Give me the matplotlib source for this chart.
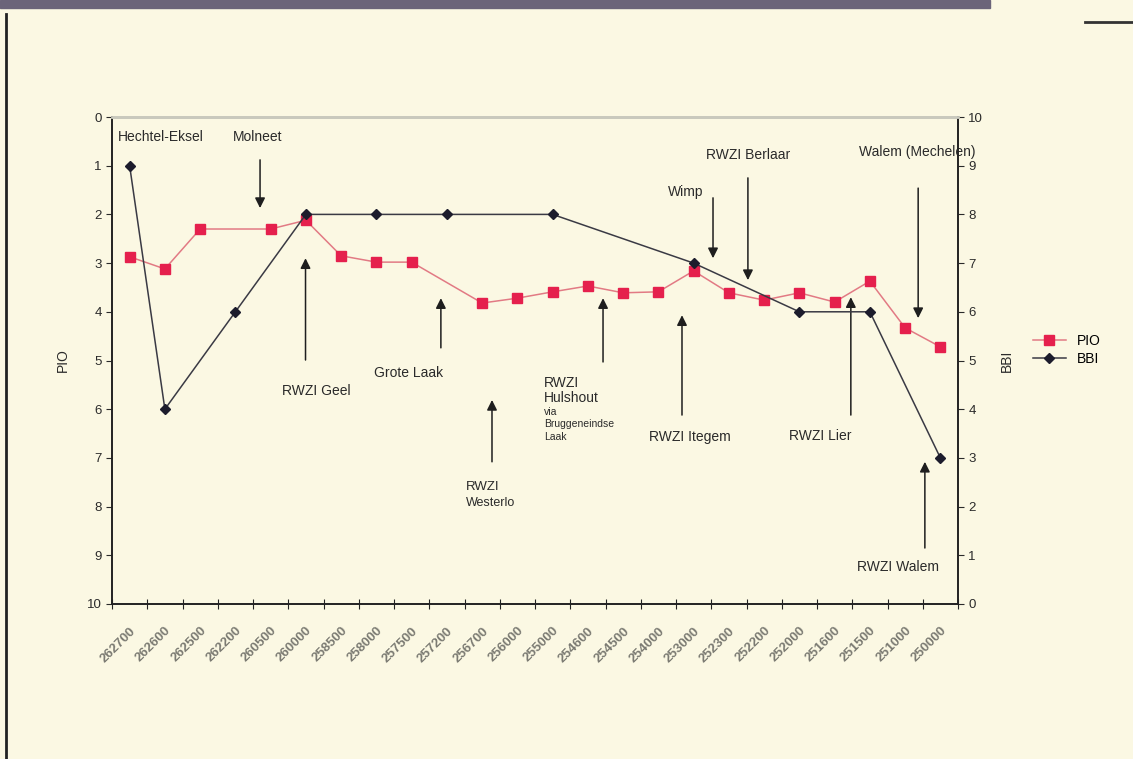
import matplotlib
matplotlib.use("Agg")
import matplotlib.pyplot as plt
from matplotlib.lines import Line2D
from matplotlib.patches import Rectangle

# river km / coordinates along the Nete (x categories)
locations = ["262700", "262600", "262500", "262200", "260500", "260000",
             "258500", "258000", "257500", "257200", "256700", "256000",
             "255000", "254600", "254500", "254000", "253000", "252300",
             "252200", "252000", "251600", "251500", "251000", "250000"]

# PIO index (left axis, inverted) - missing at some stations
pio_idx = [0, 1, 2, 4, 5, 6, 7, 8, 10, 11, 12, 13, 14, 15, 16, 17, 18, 19, 20, 21, 22, 23]
pio_val = [2.87, 3.12, 2.30, 2.30, 2.12, 2.85, 2.98, 2.98, 3.82, 3.72, 3.59, 3.47,
           3.61, 3.59, 3.16, 3.61, 3.76, 3.61, 3.80, 3.37, 4.33, 4.72]

# BBI (right axis)
bbi_idx = [0, 1, 3, 5, 7, 9, 12, 16, 19, 21, 23]
bbi_val = [9, 4, 6, 8, 8, 8, 8, 7, 6, 6, 3]

# discharge points: (text, text x, text y, arrow x, arrow from y, arrow to y)
labels = [
    ("Molneet", 3.64, 0.41, 3.70, 0.88, 1.87),
    ("RWZI Geel", 5.29, 5.63, 4.99, 4.99, 2.90),
    ("Grote Laak", 7.90, 5.26, 8.83, 4.74, 3.72),
    ("Wimp", 15.78, 1.54, 16.55, 1.66, 2.90),
    ("RWZI Berlaar", 17.54, 0.78, 17.54, 1.25, 3.35),
    ("Walem (Mechelen)", 22.34, 0.72, 22.37, 1.46, 4.13),
    ("RWZI Itegem", 15.90, 6.57, 15.67, 6.12, 4.07),
    ("RWZI Lier", 19.59, 6.55, 20.46, 6.12, 3.70),
    ("RWZI Walem", 21.80, 9.24, 22.56, 8.85, 7.08),
]

bg = "#fbf8e3"
plt.rcParams["font.family"] = ["Liberation Sans", "DejaVu Sans"]

fig = plt.figure(figsize=(11.33, 7.59), dpi=100, facecolor=bg)
ax = fig.add_axes([112 / 1133, 1 - 604 / 759, (958 - 112) / 1133, (604 - 117) / 759])
ax.set_facecolor(bg)
ax2 = ax.twinx()

x = list(range(len(locations)))
ax.set_xlim(-0.5, len(locations) - 0.5)
ax.set_ylim(10, 0)
ax2.set_ylim(0, 10)

ax.plot(pio_idx, pio_val, color="#e27a84", lw=1.1, marker="s", ms=6.5,
        mfc="#e5204d", mec="#e5204d", zorder=3)
ax2.plot(bbi_idx, bbi_val, color="#3a3a44", lw=1.1, marker="D", ms=5,
         mfc="#1c1c2c", mec="#1c1c2c", zorder=3)

# axes styling
for a in (ax, ax2):
    a.spines["top"].set_color("#c9c9bd")
    a.spines["top"].set_linewidth(2)
    for s in ("left", "right", "bottom"):
        a.spines[s].set_color("#222222")
        a.spines[s].set_linewidth(1.2)

ax.set_yticks(range(0, 11))
ax.tick_params(axis="y", direction="out", length=4, labelsize=9.5, colors="#2a2a2a")
ax2.set_yticks(range(0, 11))
ax2.tick_params(axis="y", direction="out", length=4, labelsize=9.5, colors="#2a2a2a")

ax.set_xticks([i - 0.5 for i in range(len(locations) + 1)])
ax.set_xticklabels([])
ax.tick_params(axis="x", direction="inout", length=7, color="#222222")
ax.set_xticks(x, minor=True)
ax.set_xticklabels(locations, minor=True, rotation=45, ha="right",
                   rotation_mode="anchor", fontsize=9.5, color="#7a7a72",
                   fontweight="bold")
ax.tick_params(axis="x", which="minor", length=0, pad=15)

ax.set_ylabel("PIO", fontsize=10, color="#2a2a2a", labelpad=12)
ax2.set_ylabel("BBI", fontsize=10, color="#2a2a2a", labelpad=12)

# annotations
txt = dict(fontsize=10, color="#2a2a2a")
arrow = dict(arrowstyle="-|>", color="#1e1e1e", lw=1.1, mutation_scale=15,
             shrinkA=0, shrinkB=0)
ax.text(0.89, 0.41, "Hechtel-Eksel", ha="center", va="center", **txt)
for name, tx, ty, axx, y0, y1 in labels:
    ax.text(tx, ty, name, ha="center", va="center", **txt)
    ax.annotate("", xy=(axx, y1), xytext=(axx, y0), arrowprops=arrow)

# RWZI Westerlo
ax.text(9.54, 7.60, "RWZI", ha="left", va="center", fontsize=9.5, color="#2a2a2a")
ax.text(9.54, 7.93, "Westerlo", ha="left", va="center", fontsize=9, color="#2a2a2a")
ax.annotate("", xy=(10.28, 5.81), xytext=(10.28, 7.08), arrowprops=arrow)

# RWZI Hulshout via Bruggeneindse Laak
ax.text(11.76, 5.47, "RWZI", ha="left", va="center", **txt)
ax.text(11.76, 5.77, "Hulshout", ha="left", va="center", **txt)
ax.text(11.76, 6.05, "via", ha="left", va="center", fontsize=7.5, color="#2a2a2a")
ax.text(11.76, 6.31, "Bruggeneindse", ha="left", va="center", fontsize=7.5, color="#2a2a2a")
ax.text(11.76, 6.57, "Laak", ha="left", va="center", fontsize=7.5, color="#2a2a2a")
ax.annotate("", xy=(13.43, 3.72), xytext=(13.43, 5.03), arrowprops=arrow)

# legend outside right
handles = [
    Line2D([], [], color="#e27a84", lw=1.1, marker="s", ms=6.5, mfc="#e5204d", mec="#e5204d"),
    Line2D([], [], color="#3a3a44", lw=1.1, marker="D", ms=5, mfc="#1c1c2c", mec="#1c1c2c"),
]
fig.legend(handles, ["PIO", "BBI"], loc="center left",
           bbox_to_anchor=(1020 / 1133, 1 - 350 / 759), frameon=False,
           fontsize=10, handlelength=2.4, labelspacing=0.3)

# scanned page border
fig.add_artist(Rectangle((0, 1 - 8 / 759), 990 / 1133, 8 / 759, transform=fig.transFigure,
                         color="#6b6479", zorder=0))
fig.add_artist(Line2D([6 / 1133, 6 / 1133], [0, 1 - 14 / 759], transform=fig.transFigure,
                      color="#222222", lw=2))
fig.add_artist(Line2D([1085 / 1133, 1], [1 - 22 / 759, 1 - 22 / 759], transform=fig.transFigure,
                      color="#333333", lw=2))

fig.savefig("out.png", dpi=100, facecolor=bg)
